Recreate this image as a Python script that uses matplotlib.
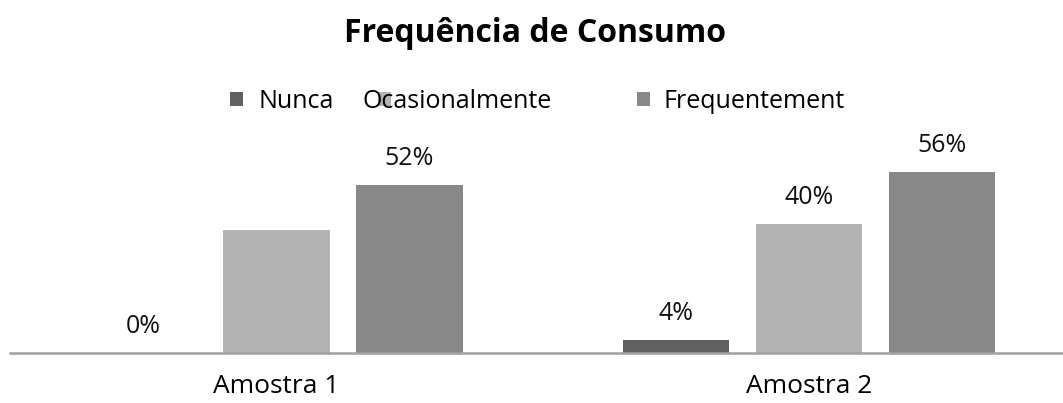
import matplotlib.pyplot as plt
import numpy as np

categories = ['Amostra 1', 'Amostra 2']
series_names = ['Nunca', 'Ocasionalmente', 'Frequentement']
nunca = [0, 4]
ocasionalmente = [38, 40]
frequentemente = [52, 56]
value_labels = [['0%', '4%'], ['', '40%'], ['52%', '56%']]
colors = ['#606060', '#b3b3b3', '#888888']

plt.rcParams['font.family'] = ['Open Sans', 'DejaVu Sans']

fig = plt.figure(figsize=(10.63, 4.03), dpi=100)
ax = fig.add_axes([10 / 1063, 50 / 403, 1 - 10 / 1063, 203 / 403])

x = np.arange(len(categories))
width = 0.2
offset = 0.25
series = [nunca, ocasionalmente, frequentemente]
bars = []
for i, vals in enumerate(series):
    b = ax.bar(x + (i - 1) * offset, vals, width, color=colors[i], label=series_names[i])
    bars.append(b)
    for rect, lab in zip(b, value_labels[i]):
        if lab:
            ax.annotate(lab, (rect.get_x() + rect.get_width() / 2, rect.get_height()),
                        xytext=(0, 10), textcoords='offset points',
                        ha='center', va='bottom', fontsize=18, color='#111111')

ax.set_xlim(-0.5, 1.477)
ax.set_ylim(0, 62.8)
ax.set_xticks(x)
ax.set_xticklabels(categories, fontsize=19)
ax.tick_params(axis='x', length=0, pad=15)
ax.set_yticks([])
for s in ['top', 'right', 'left']:
    ax.spines[s].set_visible(False)
ax.spines['bottom'].set_color('#a0a0a0')
ax.spines['bottom'].set_linewidth(1.8)

fig.text(535 / 1063, 1 - 33 / 403, 'Frequência de Consumo', ha='center', va='center',
         fontsize=23, fontweight='bold')

# legend entries placed one by one, as in the original (the middle one overlaps its marker)
leg_pos = [(230, 0.64), (378, -1.1), (637, 0.56)]
for b, name, (px, pad) in zip(bars, series_names, leg_pos):
    lg = fig.legend([b], [name], loc='center left', bbox_to_anchor=(px / 1063, 1 - 101 / 403),
                    frameon=False, fontsize=18, handlelength=0.5, handleheight=0.5,
                    handletextpad=pad, borderpad=0, borderaxespad=0)

fig.savefig('out.png', dpi=100)
